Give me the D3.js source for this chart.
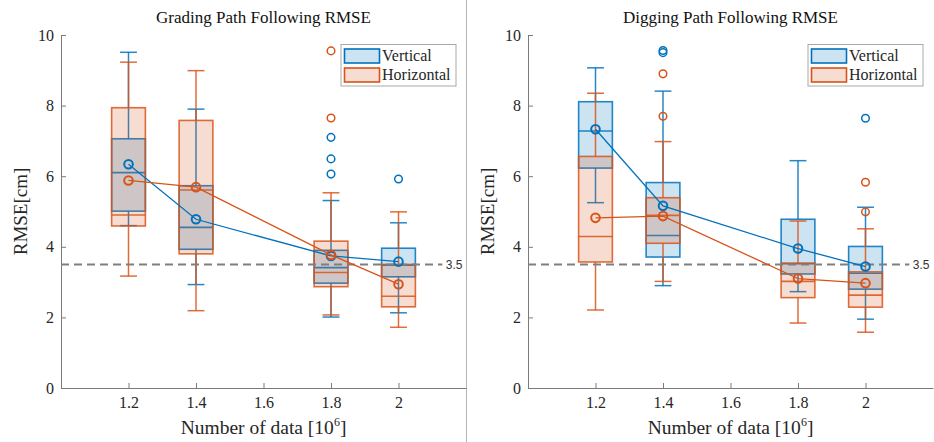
<!DOCTYPE html>
<html>
<head>
<meta charset="utf-8">
<script src="https://cdn.jsdelivr.net/npm/d3@7"></script>
<style>
  body { margin: 0; background: #fff; }
  svg { display: block; }
  .serif { font-family: "Liberation Serif", "DejaVu Serif", serif !important; }
  .tick text { font-family: "Liberation Serif", "DejaVu Serif", serif !important; font-size: 16px; fill: #262626; }
  .domain, .tick line { stroke: #7a7a7a; }
</style>
</head>
<body>
<div id="chart"></div>
<script>
// Categories and ticks
const xCats = [1.2, 1.4, 1.8, 2];
const xTicks = [1.2, 1.4, 1.6, 1.8, 2];
const yTicks = [0, 2, 4, 6, 8, 10];
const refLine = 3.5;

// Box stats per category: [lowWhisker, q1, median, q3, highWhisker]
const gradingVertical = [[4.60, 5.01, 6.10, 7.06, 9.51], [2.93, 3.93, 4.55, 5.73, 7.90], [2.01, 2.97, 3.41, 3.90, 5.31], [2.13, 3.15, 3.48, 3.96, 4.68]];
const gradingVerticalOut = [[], [], [6.06, 6.49, 7.10], [5.92]];
const gradingVerticalMean = [6.34, 4.78, 3.74, 3.58];

const gradingHorizontal = [[3.17, 4.59, 4.90, 7.94, 9.23], [2.19, 3.80, 5.61, 7.58, 8.99], [2.07, 2.87, 3.27, 4.16, 5.53], [1.72, 2.30, 2.60, 3.50, 4.99]];
const gradingHorizontalOut = [[], [], [7.65, 9.55], []];
const gradingHorizontalMean = [5.88, 5.69, 3.77, 2.94];

const diggingVertical = [[5.25, 6.23, 7.28, 8.11, 9.07], [2.90, 3.71, 4.32, 5.82, 8.41], [2.73, 3.23, 3.52, 4.78, 6.44], [1.95, 2.80, 3.25, 4.01, 5.12]];
const diggingVerticalOut = [[], [9.50, 9.56], [], [7.64]];
const diggingVerticalMean = [7.33, 5.16, 3.95, 3.44];

const diggingHorizontal = [[2.21, 3.57, 4.29, 6.56, 8.35], [3.02, 4.10, 4.89, 5.39, 6.98], [1.84, 2.56, 3.02, 3.54, 4.73], [1.58, 2.29, 2.63, 3.29, 4.51]];
const diggingHorizontalOut = [[], [7.70, 8.90], [], [4.99, 5.83]];
const diggingHorizontalMean = [4.82, 4.87, 3.10, 2.97];

const seriesNames = ["Vertical", "Horizontal"];
const colors = ["#0072BD", "#D95319"];

const W = 934, H = 442;
const svg = d3.select("#chart").append("svg").attr("width", W).attr("height", H);

// divider between the two panels
svg.append("line")
  .attr("x1", 466.5).attr("x2", 466.5).attr("y1", 0).attr("y2", H)
  .attr("stroke", "#b5b5b5").attr("stroke-width", 1);

function drawPanel(left, title, series) {
  const x = d3.scaleLinear().domain([1.0, 2.2]).range([left, left + 405]);
  const y = d3.scaleLinear().domain([0, 10]).range([388, 35]);
  const g = svg.append("g");
  const boxW = x(1.1) - x(1.0);
  const capW = boxW / 2;

  // axes
  g.append("g")
    .attr("transform", `translate(0,${y(0)})`)
    .call(d3.axisBottom(x).tickValues(xTicks).tickSizeInner(-5).tickSizeOuter(0).tickPadding(9).tickFormat(d3.format("~g")))
    .attr("font-family", null).attr("font-size", null);
  g.append("g")
    .attr("transform", `translate(${x(1.0)},0)`)
    .call(d3.axisLeft(y).tickValues(yTicks).tickSizeInner(-5).tickSizeOuter(0).tickPadding(7))
    .attr("font-family", null).attr("font-size", null);
  g.selectAll(".domain").attr("stroke", "#7a7a7a");

  // boxes
  series.forEach((s, si) => {
    const c = colors[si];
    const bg = g.append("g");
    const items = s.stats.map((st, i) => ({ cx: xCats[i], st, out: s.out[i] }));

    // whiskers
    bg.selectAll(".wh").data(items).join("g").each(function(d) {
      const sel = d3.select(this);
      const [lo, q1, md, q3, hi] = d.st;
      const cx = x(d.cx);
      sel.append("line").attr("x1", cx).attr("x2", cx).attr("y1", y(q3)).attr("y2", y(hi));
      sel.append("line").attr("x1", cx).attr("x2", cx).attr("y1", y(q1)).attr("y2", y(lo));
      sel.append("line").attr("x1", cx - capW / 2).attr("x2", cx + capW / 2).attr("y1", y(hi)).attr("y2", y(hi));
      sel.append("line").attr("x1", cx - capW / 2).attr("x2", cx + capW / 2).attr("y1", y(lo)).attr("y2", y(lo));
      sel.selectAll("line").attr("stroke", c).attr("stroke-width", 1.5).attr("stroke-opacity", 0.85);
    });

    bg.selectAll("rect").data(items).join("rect")
      .attr("x", d => x(d.cx) - boxW / 2)
      .attr("width", boxW)
      .attr("y", d => y(d.st[3]))
      .attr("height", d => y(d.st[1]) - y(d.st[3]))
      .attr("fill", c).attr("fill-opacity", 0.2)
      .attr("stroke", c).attr("stroke-width", 1.6).attr("stroke-opacity", 0.85);

    bg.selectAll(".med").data(items).join("line")
      .attr("x1", d => x(d.cx) - boxW / 2).attr("x2", d => x(d.cx) + boxW / 2)
      .attr("y1", d => y(d.st[2])).attr("y2", d => y(d.st[2]))
      .attr("stroke", c).attr("stroke-width", 1.6).attr("stroke-opacity", 0.85);

    const outs = items.flatMap(d => d.out.map(v => ({ cx: d.cx, v })));
    bg.selectAll(".out").data(outs).join("circle")
      .attr("cx", d => x(d.cx)).attr("cy", d => y(d.v)).attr("r", 3.8)
      .attr("fill", "none").attr("stroke", c).attr("stroke-width", 1.5);
  });

  // reference line
  g.append("line")
    .attr("x1", x(1.0)).attr("x2", x(2.13))
    .attr("y1", y(refLine)).attr("y2", y(refLine))
    .attr("stroke", "#7f7f7f").attr("stroke-width", 2).attr("stroke-dasharray", "8,5");
  g.append("text")
    .attr("x", x(2.14)).attr("y", y(refLine)).attr("dy", "0.35em")
    .style("font-family", "'Liberation Sans', Arial, sans-serif").style("font-size", "12px")
    .attr("fill", "#333").text("3.5");

  // mean lines
  series.forEach((s, si) => {
    const c = colors[si];
    const pts = s.mean.map((v, i) => [xCats[i], v]);
    g.append("path")
      .datum(pts)
      .attr("d", d3.line().x(d => x(d[0])).y(d => y(d[1])))
      .attr("fill", "none").attr("stroke", c).attr("stroke-width", 1.3);
    g.selectAll(null).data(pts).join("circle")
      .attr("cx", d => x(d[0])).attr("cy", d => y(d[1])).attr("r", 4.3)
      .attr("fill", "none").attr("stroke", c).attr("stroke-width", 2);
  });

  // legend
  const lx = x(2.2) - 125, ly = 44.5;
  g.append("rect").attr("x", lx).attr("y", ly).attr("width", 115).attr("height", 41.5)
    .attr("fill", "#fff").attr("stroke", "#a8a8a8").attr("stroke-width", 1);
  seriesNames.forEach((n, i) => {
    g.append("rect").attr("x", lx + 3.5).attr("y", ly + 4.5 + i * 19).attr("width", 35).attr("height", 14)
      .attr("fill", colors[i]).attr("fill-opacity", 0.2)
      .attr("stroke", colors[i]).attr("stroke-width", 1.6);
    g.append("text").attr("class", "serif").attr("x", lx + 41).attr("y", ly + 16 + i * 19)
      .style("font-size", "16px").attr("fill", "#262626").text(n);
  });

  // titles and labels
  const mid = (x(1.0) + x(2.2)) / 2;
  g.append("text").attr("class", "serif").attr("x", mid).attr("y", 23).attr("text-anchor", "middle")
    .style("font-size", "17px").attr("fill", "#111").text(title);
  const xl = g.append("text").attr("class", "serif").attr("x", mid).attr("y", 434).attr("text-anchor", "middle")
    .style("font-size", "19.5px").attr("fill", "#262626");
  xl.append("tspan").text("Number of data [10");
  xl.append("tspan").style("font-size", "12px").attr("dy", -8).text("6");
  xl.append("tspan").attr("dy", 8).text("]");
  g.append("text").attr("class", "serif")
    .attr("transform", `translate(${x(1.0) - 41},${(y(0) + y(10)) / 2}) rotate(-90)`)
    .attr("text-anchor", "middle").attr("dy", "0.35em")
    .style("font-size", "19px").attr("fill", "#262626").text("RMSE[cm]");
}

drawPanel(61, "Grading Path Following RMSE", [
  { stats: gradingVertical, out: gradingVerticalOut, mean: gradingVerticalMean },
  { stats: gradingHorizontal, out: gradingHorizontalOut, mean: gradingHorizontalMean }
]);
drawPanel(528, "Digging Path Following RMSE", [
  { stats: diggingVertical, out: diggingVerticalOut, mean: diggingVerticalMean },
  { stats: diggingHorizontal, out: diggingHorizontalOut, mean: diggingHorizontalMean }
]);
</script>
</body>
</html>
